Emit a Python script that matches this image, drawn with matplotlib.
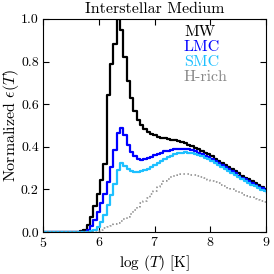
import numpy as np
import matplotlib
matplotlib.use('Agg')
import matplotlib.pyplot as plt

plt.rcParams['font.family'] = 'serif'
plt.rcParams['font.serif'] = ['cmr10']
plt.rcParams['mathtext.fontset'] = 'cm'
plt.rcParams['axes.formatter.use_mathtext'] = True

# bin left edges in log T (0.06 dex bins)
log_T = np.round(np.arange(5.0, 9.03, 0.06), 2)

mw = [0, 0, 0, 0, 0, 0, 0, 0, 0, 0, 0,
      0.004, 0.012, 0.035, 0.072, 0.12, 0.18, 0.245, 0.32, 0.645, 0.79,
      0.88, 1.0, 0.95, 0.82, 0.71, 0.63, 0.57, 0.527, 0.50, 0.482,
      0.47, 0.461, 0.454, 0.448, 0.443, 0.44, 0.436, 0.433, 0.43, 0.427,
      0.422, 0.417, 0.41, 0.403, 0.396, 0.388, 0.38, 0.372, 0.364, 0.355,
      0.345, 0.335, 0.325, 0.315, 0.305, 0.295, 0.285, 0.275, 0.265, 0.256,
      0.247, 0.238, 0.229, 0.22, 0.211, 0.203, 0.196]

lmc = [0, 0, 0, 0, 0, 0, 0, 0, 0, 0, 0, 0,
       0.002, 0.01, 0.03, 0.056, 0.095, 0.135, 0.18, 0.236, 0.307,
       0.385, 0.465, 0.487, 0.455, 0.408, 0.377, 0.355, 0.343, 0.34, 0.343,
       0.348, 0.354, 0.36, 0.367, 0.373, 0.378, 0.382, 0.386, 0.388, 0.39,
       0.391, 0.39, 0.388, 0.384, 0.379, 0.373, 0.366, 0.359, 0.352, 0.343,
       0.334, 0.325, 0.315, 0.305, 0.295, 0.285, 0.275, 0.265, 0.256, 0.247,
       0.238, 0.229, 0.221, 0.213, 0.205, 0.197, 0.19]

smc = [0, 0, 0, 0, 0, 0, 0, 0, 0, 0, 0, 0, 0,
       0.002, 0.005, 0.01, 0.025, 0.048, 0.08, 0.127, 0.174,
       0.225, 0.29, 0.322, 0.308, 0.295, 0.287, 0.282, 0.281, 0.285, 0.29,
       0.297, 0.305, 0.315, 0.325, 0.333, 0.342, 0.35, 0.358, 0.365, 0.37,
       0.373, 0.374, 0.373, 0.37, 0.366, 0.361, 0.355, 0.348, 0.341, 0.333,
       0.325, 0.316, 0.307, 0.297, 0.288, 0.278, 0.268, 0.258, 0.249, 0.24,
       0.231, 0.223, 0.215, 0.207, 0.199, 0.191, 0.184]

h_rich = [0, 0, 0, 0, 0, 0, 0, 0, 0, 0, 0, 0, 0, 0, 0, 0,
          0.005, 0.01, 0.018, 0.025, 0.03,
          0.036, 0.042, 0.05, 0.06, 0.072, 0.087, 0.103, 0.119, 0.135, 0.148,
          0.16, 0.178, 0.195, 0.21, 0.226, 0.239, 0.25, 0.258, 0.264, 0.268,
          0.271, 0.272, 0.272, 0.27, 0.267, 0.263, 0.258, 0.252, 0.246, 0.24,
          0.234, 0.228, 0.222, 0.216, 0.209, 0.202, 0.195, 0.188, 0.181, 0.175,
          0.169, 0.163, 0.157, 0.152, 0.147, 0.142, 0.137]

fig = plt.figure(figsize=(2.74, 2.74), dpi=100)
ax = fig.add_axes([0.157, 0.153, 0.814, 0.778])

ax.step(log_T, mw, where='post', c='black', lw=1.6, label='MW')
ax.step(log_T, lmc, where='post', c='#0000ff', lw=1.6, label='LMC')
ax.step(log_T, smc, where='post', c='#1ec0ff', lw=1.6, label='SMC')
ax.step(log_T, h_rich, where='post', c='#888888', lw=1.1, ls=':', label='H-rich')

ax.set_xlim(5, 9)
ax.set_ylim(0, 1)
ax.set_xticks([5, 6, 7, 8, 9])
ax.set_yticks([0.0, 0.2, 0.4, 0.6, 0.8, 1.0])
ax.set_yticklabels(['0.0', '0.2', '0.4', '0.6', '0.8', '1.0'])
ax.tick_params(direction='in', top=True, right=True, length=4, labelsize=10, pad=3)

ax.set_title('Interstellar Medium', fontsize=11.5, pad=4)
ax.set_xlabel(r'log $(T)$ [K]', fontsize=11, labelpad=2)
ax.set_ylabel(r'Normalized $\epsilon(T)$', fontsize=11.5, labelpad=0)

leg = ax.legend(loc='upper left', bbox_to_anchor=(0.632, 0.97), frameon=False,
                handlelength=0, handletextpad=0, fontsize=11.5, labelspacing=0.05,
                borderaxespad=0, borderpad=0, labelcolor='linecolor')
for h in leg.legend_handles:
    h.set_visible(False)

fig.savefig('out.png', dpi=100)
